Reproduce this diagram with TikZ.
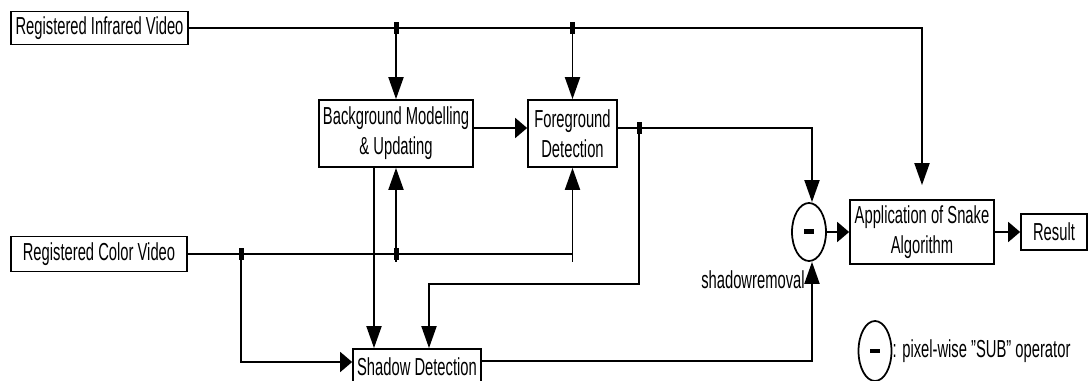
\documentclass[tikz,border=0pt]{standalone}
\usepackage{fontspec}
\setmainfont{Liberation Sans}[FakeStretch=0.6]
\usepackage{tikz}
\usetikzlibrary{positioning,arrows.meta,shapes.geometric}

\begin{document}
\begin{tikzpicture}[x=0.02cm, y=-0.02cm,
  box/.style={draw, line width=1pt, inner sep=0pt, align=center, font=\fontsize{14pt}{17pt}\selectfont},
  op/.style={draw, ellipse, line width=1pt, inner sep=0pt, minimum width=0.68cm, minimum height=1.16cm},
  junc/.style={fill, inner sep=0pt, minimum width=0.1cm, minimum height=0.24cm},
  txt/.style={inner sep=0pt, font=\fontsize{14pt}{17pt}\selectfont},
  wire/.style={line width=1.1pt},
  varr/.style={wire, -{Triangle[length=0.44cm, width=0.3cm]}},
  harr/.style={wire, -{Triangle[length=0.24cm, width=0.4cm]}}]
\useasboundingbox (0,0) rectangle (1089,381);
\node[box, minimum width=3.54cm, minimum height=0.66cm] (ir) at (99.5,28) {Registered Infrared Video};
\node[box, minimum width=3.52cm, minimum height=0.7cm] (col) at (99,254) {Registered Color Video};
\node[box, minimum width=3.08cm, minimum height=1.34cm] (bg) at (396,133.5) {Background Modelling\\ \& Updating};
\node[box, minimum width=1.78cm, minimum height=1.34cm] (fg) at (572.5,133.5) {Foreground\\ Detection};
\node[box, minimum width=2.56cm, minimum height=0.72cm] (sh) at (417,367) {Shadow Detection};
\node[op] (sub) at (809,232) {\rule{0.2cm}{0.1cm}};
\node[box, minimum width=2.88cm, minimum height=1.28cm] (app) at (922,232) {Application of Snake\\ Algorithm};
\node[box, minimum width=1.32cm, minimum height=0.72cm] (res) at (1054,232) {Result};
\node[txt, anchor=east] (rm) at (805,280) {shadowremoval};
\node[op, minimum width=0.66cm, minimum height=1.2cm] (leg) at (875,351) {\rule{0.2cm}{0.1cm}};
\node[txt, right=0pt of leg] (legtxt) {: pixel-wise "SUB" operator};
\node[junc] (j1) at (bg.north |- ir.east) {};
\node[junc] (j2) at (fg.north |- ir.east) {};
\node[junc] (j3) at (639,128) {};
\node[junc] (j4) at (241,254) {};
\node[junc] (j5) at (bg.south |- col.east) {};
\coordinate (bgout) at ([xshift=-0.44cm]bg.south);
\draw[varr, shorten >=0.28cm] (ir.east) -| (app.north);
\draw[varr] (j1) -- (bg.north);
\draw[varr] (j2) -- (fg.north);
\draw[harr] ([yshift=0.11cm]bg.east) -- ([yshift=0.11cm]fg.west);
\draw[varr] ([yshift=0.11cm]fg.east) -| ([xshift=0.06cm]sub.north);
\draw[varr] (j3.center) -- ++(0,156) -| ([xshift=0.24cm]sh.north);
\draw[varr] (bgout) -- (bgout |- sh.north);
\draw[varr] (col.east) -| (fg.south);
\draw[wire] (col.east -| fg.south) -- ++(0,8);
\draw[varr] ([yshift=-0.16cm]j5.center) -- (bg.south);
\draw[harr] (j4.center) |- ([yshift=0.1cm]sh.west);
\draw[harr] (sub) -- (app);
\draw[harr] (app) -- (res);
\draw[varr] ([yshift=0.12cm]sh.east) -| ([xshift=0.06cm]sub.south);
\end{tikzpicture}
\end{document}
